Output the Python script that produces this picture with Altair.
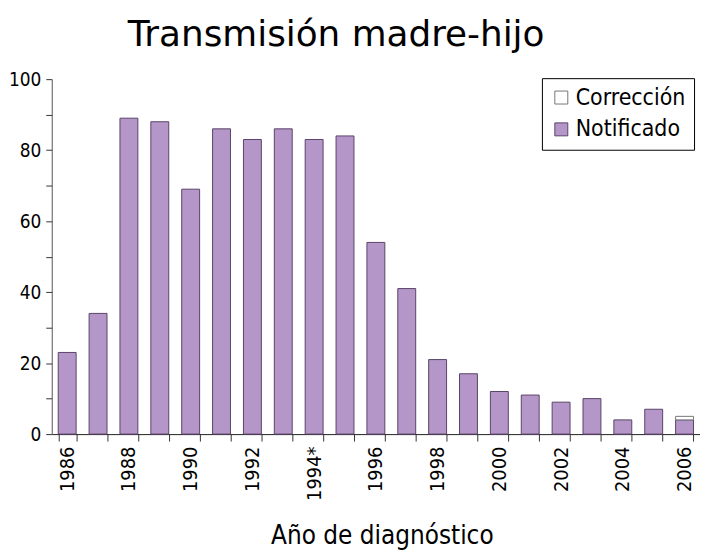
import altair as alt
import pandas as pd

years = list(range(1986, 2007))
notificado = [23, 34, 89, 88, 69, 86, 83, 86, 83, 84, 54, 41, 21, 17, 12, 11, 9, 10, 4, 7, 4]
correccion = [0, 0, 0, 0, 0, 0, 0, 0, 0, 0, 0, 0, 0, 0, 0, 0, 0, 0, 0, 0, 1]
series = ["Corrección", "Notificado"]
y_ticks = [0, 10, 20, 30, 40, 50, 60, 70, 80, 90, 100]

rows = []
for y, n, c in zip(years, notificado, correccion):
    rows.append({"year": y, "serie": "Notificado", "value": n, "ord": 0})
    if c > 0:
        rows.append({"year": y, "serie": "Corrección", "value": c, "ord": 1})
df = pd.DataFrame(rows)

narrow = "DejaVu Sans Condensed"

chart = alt.Chart(df).mark_bar(strokeWidth=1).encode(
    x=alt.X(
        "year:O",
        scale=alt.Scale(paddingInner=0.42, paddingOuter=0.21),
        axis=alt.Axis(
            title="Año de diagnóstico",
            labelAngle=-90,
            labelAlign="right",
            labelBaseline="middle",
            labelExpr="datum.value % 2 == 0 ? (datum.value == 1994 ? '1994*' : datum.label) : ''",
            labelFont=narrow,
            labelFontSize=20,
            labelColor="#000",
            labelPadding=5,
            tickBand="extent",
            tickSize=7,
            tickColor="#333",
            domainColor="#222",
            titleFont=narrow,
            titleFontSize=26,
            titleFontWeight="normal",
            titleColor="#000",
            titlePadding=22,
            titleX=332,
        ),
    ),
    y=alt.Y(
        "value:Q",
        stack="zero",
        scale=alt.Scale(domain=[0, 100], nice=False),
        axis=alt.Axis(
            title=None,
            values=y_ticks,
            labelExpr="datum.value % 20 == 0 ? datum.label : ''",
            labelFont=narrow,
            labelFontSize=19,
            labelColor="#000",
            labelPadding=5,
            tickSize=6,
            tickColor="#333",
            domainColor="#555",
            grid=False,
        ),
    ),
    color=alt.Color(
        "serie:N",
        scale=alt.Scale(domain=series, range=["#ffffff", "#b497c8"]),
        legend=alt.Legend(
            title=None,
            orient="none",
            legendX=493,
            legendY=-1,
            symbolType="square",
            symbolSize=170,
            symbolStrokeColor="#555",
            symbolStrokeWidth=1,
            labelFont=narrow,
            labelFontSize=23,
            labelColor="#000",
            labelOffset=3,
            strokeColor="#000",
            fillColor="#ffffff",
            padding=8,
            rowPadding=8,
        ),
    ),
    stroke=alt.Stroke(
        "serie:N",
        scale=alt.Scale(domain=series, range=["#777777", "#5a4468"]),
        legend=None,
    ),
    order=alt.Order("ord:Q"),
).properties(
    width=652,
    height=357,
    title=alt.TitleParams(
        "Transmisión madre-hijo",
        font="DejaVu Sans",
        fontSize=36,
        fontWeight="normal",
        color="#000",
        anchor="middle",
        dx=-40,
        offset=16,
    ),
    padding={"left": 0, "top": 8, "right": 0, "bottom": 0},
).configure_view(stroke=None)

chart.save("out.html", embed_options={"renderer": "svg", "actions": False})
